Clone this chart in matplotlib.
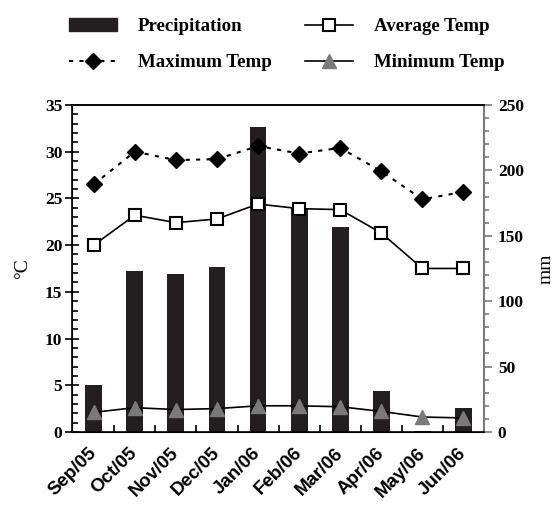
import numpy as np
import matplotlib
matplotlib.use('Agg')
import matplotlib.pyplot as plt
import matplotlib.transforms as mtransforms
from matplotlib.lines import Line2D
from matplotlib.patches import Patch

# 資料
months = ['Sep/05', 'Oct/05', 'Nov/05', 'Dec/05', 'Jan/06',
          'Feb/06', 'Mar/06', 'Apr/06', 'May/06', 'Jun/06']
precip = [36, 123, 121, 126, 233, 171, 157, 31, 1, 18]            # mm
avg_temp = [20.0, 23.2, 22.4, 22.8, 24.4, 23.9, 23.8, 21.3, 17.5, 17.5]
max_temp = [26.5, 30.0, 29.1, 29.2, 30.6, 29.8, 30.4, 27.9, 24.9, 25.7]
min_temp = [2.1, 2.6, 2.4, 2.5, 2.8, 2.8, 2.7, 2.2, 1.6, 1.5]

serif = 'Liberation Serif'
sans = 'Liberation Sans'
gray = '#7a7a7a'

fig = plt.figure(figsize=(5.55, 5.07), dpi=100)
ax = fig.add_axes([0.1297, 0.148, 0.7423, 0.645])
ax2 = ax.twinx()

x = np.arange(len(months))

# 降雨量長條圖 (右軸)
ax2.bar(x, precip, width=0.41, color='#231f20', zorder=1)
ax2.set_ylim(0, 250)
ax2.set_yticks(np.arange(0, 251, 50))
ax2.set_yticks(np.arange(0, 251, 10), minor=True)
ax2.tick_params(axis='y', which='major', direction='out', length=6, width=1.2, color=gray, pad=4)
ax2.tick_params(axis='y', which='minor', direction='out', length=3.5, width=1.2, color=gray)
ax2.spines['right'].set_color(gray)
ax2.spines['right'].set_linewidth(1.5)
for lab in ax2.get_yticklabels():
    lab.set_fontfamily(serif)
    lab.set_fontweight('bold')
    lab.set_fontsize(12.5)
ax2.set_ylabel('mm', fontfamily=serif, fontsize=14, labelpad=10)

# 溫度折線 (左軸)
ax.set_zorder(ax2.get_zorder() + 1)
ax.patch.set_visible(False)
ax.plot(x, max_temp, linestyle=(0, (2, 3)), color='black', lw=1.5,
        marker='D', markersize=8, markerfacecolor='black', markeredgecolor='black')
ax.plot(x, avg_temp, linestyle='-', color='black', lw=1.2,
        marker='s', markersize=9, markerfacecolor='white', markeredgecolor='black', markeredgewidth=1.5)
ax.plot(x, min_temp, linestyle='-', color='black', lw=1.2,
        marker='^', markersize=10, markerfacecolor=gray, markeredgecolor=gray)

ax.set_xlim(-0.53, 9.5)
ax.set_ylim(0, 35)
ax.set_yticks(np.arange(0, 36, 5))
ax.set_yticks(np.arange(0, 36, 1), minor=True)
ax.tick_params(axis='y', which='major', direction='inout', length=10, width=1.2, pad=2)
ax.tick_params(axis='y', which='minor', direction='in', length=4, width=1.2)
for lab in ax.get_yticklabels():
    lab.set_fontfamily(serif)
    lab.set_fontweight('bold')
    lab.set_fontsize(12.5)
ax.set_ylabel('°C', fontfamily=serif, fontsize=14, labelpad=10)

ax.set_xticks(x)
ax.set_xticklabels(months, rotation=45, ha='right', rotation_mode='anchor',
                   fontfamily=sans, fontweight='bold', fontsize=13.5)
ax.tick_params(axis='x', which='major', length=0, pad=9)
# 標籤稍微往左移
shift = mtransforms.ScaledTranslation(-6 / 100, 0, fig.dpi_scale_trans)
for lab in ax.get_xticklabels():
    lab.set_transform(lab.get_transform() + shift)
ax.set_xticks(np.arange(0.5, 9.5, 1), minor=True)
ax.tick_params(axis='x', which='minor', direction='in', length=5, width=1.2)
for s in ['left', 'bottom', 'top']:
    ax.spines[s].set_linewidth(1.2)
ax.spines['right'].set_visible(False)
ax2.spines['top'].set_linewidth(1.2)

# 圖例
handles = [
    Patch(facecolor='#231f20', edgecolor='#231f20'),
    Line2D([], [], linestyle=(0, (2, 3)), color='black', lw=1.5, marker='D',
           markersize=8, markerfacecolor='black'),
    Line2D([], [], linestyle='-', color='black', lw=1.2, marker='s', markersize=9,
           markerfacecolor='white', markeredgecolor='black', markeredgewidth=1.5),
    Line2D([], [], linestyle='-', color='black', lw=1.2, marker='^', markersize=10,
           markerfacecolor=gray, markeredgecolor=gray),
]
labels = ['Precipitation', 'Maximum Temp', 'Average Temp', 'Minimum Temp']
fig.legend(handles, labels, ncol=2, loc='upper left',
           bbox_to_anchor=(69 / 555, 1 - 18 / 507),
           frameon=False, borderpad=0, borderaxespad=0,
           handlelength=2.55, handleheight=0.7, columnspacing=1.75,
           labelspacing=1.0, handletextpad=1.1,
           prop={'family': serif, 'weight': 'bold', 'size': 13.6})

fig.savefig('out.png', dpi=100)
